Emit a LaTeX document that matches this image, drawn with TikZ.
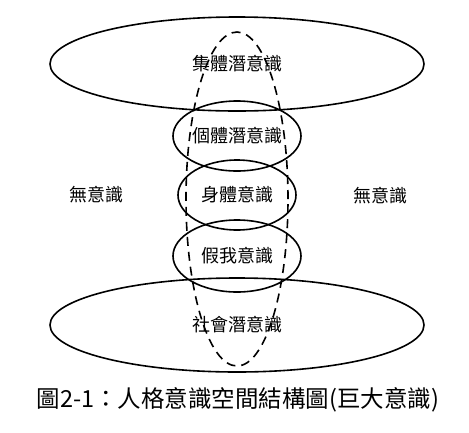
\documentclass[tikz,border=0pt]{standalone}
\usepackage{fontspec}
\setmainfont{Noto Sans CJK TC}
\usetikzlibrary{shapes.geometric}

\tikzset{layer/.style={draw,ellipse,line width=1.6pt,inner sep=0pt,font=\fontsize{18}{18}\selectfont}}

\begin{document}
\begin{tikzpicture}[x=1pt,y=-1pt]
\useasboundingbox (0,0) rectangle (469,432);
\node[layer,minimum width=374pt,minimum height=94pt] (collective) at (237,64) {集體潛意識};
\node[layer,minimum width=374pt,minimum height=94pt] (social) at (237,325) {社會潛意識};
\node[layer,minimum width=128pt,minimum height=70pt] (personal) at (237,136) {個體潛意識};
\node[layer,minimum width=118pt,minimum height=70pt] (body) at (237,195) {身體意識};
\node[layer,minimum width=128pt,minimum height=72pt] (ego) at (237,256) {假我意識};
\node[font=\fontsize{18}{18}\selectfont] (unconsciousL) at (96,195) {無意識};
\node[font=\fontsize{18}{18}\selectfont] (unconsciousR) at (380,196) {無意識};
% dashed hull across all layers
\draw[line width=1.6pt,dash pattern=on 9pt off 6pt] (237,199) ellipse[x radius=51pt,y radius=167pt];
\node[font=\fontsize{23.5}{23.5}\selectfont] (caption) at (238,400) {圖2-1：人格意識空間結構圖(巨大意識)};
\end{tikzpicture}
\end{document}
